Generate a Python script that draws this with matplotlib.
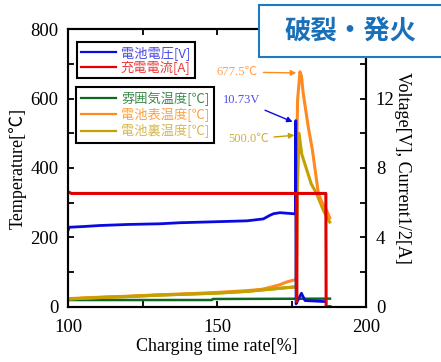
import matplotlib
matplotlib.use("Agg")
import matplotlib.pyplot as plt
from matplotlib.patches import Rectangle
from matplotlib.ticker import MultipleLocator, FixedLocator

plt.rcParams["font.family"] = ["Liberation Serif", "Noto Sans CJK JP", "DejaVu Sans"]

# charging time rate [%] and values
volt_x = [100, 100.3, 105, 110.6, 120, 130.8, 137.5, 150, 160, 165.5, 167.5, 168.9, 171.1, 175.6, 176.3,
          176.4, 176.5, 177.2, 178.3, 179.5, 186.2]
volt_y = [4.45, 4.58, 4.62, 4.68, 4.74, 4.78, 4.84, 4.9, 4.95, 5.06, 5.25, 5.36, 5.42, 5.36, 5.36,
          10.73, 0.16, 0.4, 0.77, 0.35, 0.29]

curr_x = [100, 101, 176.6, 176.7, 176.8, 186.5, 186.6, 187.9]
curr_y = [6.62, 6.53, 6.53, 0.3, 6.53, 6.53, 0.0, 0.0]

amb_x = [100, 148.2, 148.5, 187.9]
amb_y = [19, 19, 22, 23]

surf_x = [100, 110, 120, 130, 140, 150, 160, 165, 168, 171, 173, 175, 176.5,
          176.7, 177.0, 177.8, 178.3, 178.9, 180.6, 182.0, 184.0, 185.5, 186.8, 187.8]
surf_y = [23, 27, 30, 34, 37, 41, 46, 50, 56, 63, 70, 75, 78,
          431, 595, 677.5, 665, 615, 518, 451, 326, 295, 277, 256]

back_x = [100, 110, 120, 130, 140, 150, 160, 165, 170, 175, 176.6,
          176.8, 177.5, 178.4, 181.6, 183.4, 185.7, 187.8]
back_y = [22, 26, 29, 33, 36, 39, 44, 48, 52, 56, 57,
          300, 500, 440, 354, 326, 277, 244]

right_ticks = [0, 4, 8, 12]

C_BLUE = "#0a0ae0"
C_RED = "#e00000"
C_GREEN = "#0b6a20"
C_ORANGE = "#ff8a1e"
C_OLIVE = "#c4a000"

fig = plt.figure(figsize=(4.41, 3.62), dpi=100)
ax = fig.add_axes([0.155, 0.153, 0.675, 0.766])
ax2 = ax.twinx()

l_amb, = ax.plot(amb_x, amb_y, color=C_GREEN, lw=1.8)
l_back, = ax.plot(back_x, back_y, color=C_OLIVE, lw=2.2)
l_surf, = ax.plot(surf_x, surf_y, color=C_ORANGE, lw=2.2)
ax.plot(back_x[:12], back_y[:12], color=C_OLIVE, lw=2.2)

l_volt, = ax2.plot(volt_x, volt_y, color=C_BLUE, lw=2.0)
l_curr, = ax2.plot(curr_x, curr_y, color=C_RED, lw=2.2)

ax.set_xlim(100, 200)
ax.set_ylim(0, 800)
ax2.set_ylim(0, 16)

ax.xaxis.set_major_locator(MultipleLocator(50))
ax.xaxis.set_minor_locator(MultipleLocator(25))
ax.yaxis.set_major_locator(MultipleLocator(200))
ax.yaxis.set_minor_locator(MultipleLocator(100))
ax2.yaxis.set_major_locator(FixedLocator(right_ticks))
ax2.yaxis.set_minor_locator(MultipleLocator(2))

ax.tick_params(which="both", direction="in", length=4.5, width=1.3, top=True, labelsize=13.5, pad=7)
ax2.tick_params(which="both", direction="in", length=4.5, width=1.3, labelsize=13.5, pad=7)
ax.tick_params(axis="x", pad=9)
for a in (ax, ax2):
    for s in a.spines.values():
        s.set_linewidth(1.5)

ax.set_xlabel("Charging time rate[%]", fontsize=13, labelpad=1)
ax.set_ylabel("Temperature[℃]", fontsize=13, labelpad=3)
ax2.set_ylabel("Voltage[V], Current1/2[A]", fontsize=13, rotation=-90, labelpad=12)

cjk = ["Noto Sans CJK JP", "DejaVu Sans"]
leg1 = ax2.legend([l_volt, l_curr], ["電池電圧[V]", "充電電流[A]"],
                  loc="upper left", bbox_to_anchor=(0.028, 0.955), borderaxespad=0,
                  fancybox=False, prop={"family": cjk, "size": 9.5}, handlelength=2.7,
                  handletextpad=0.35, borderpad=0.3, labelspacing=0.05, framealpha=1,
                  edgecolor="black")
leg1.get_frame().set_linewidth(1.5)
for t, c in zip(leg1.get_texts(), ["#4a4ae0", "#e83a3a"]):
    t.set_color(c)

leg2 = ax.legend([l_amb, l_surf, l_back], ["雰囲気温度[℃]", "電池表温度[℃]", "電池裏温度[℃]"],
                 loc="upper left", bbox_to_anchor=(0.026, 0.793), borderaxespad=0,
                 fancybox=False, prop={"family": cjk, "size": 9.5}, handlelength=2.7,
                 handletextpad=0.35, borderpad=0.35, labelspacing=0.15, framealpha=1,
                 edgecolor="black")
leg2.get_frame().set_linewidth(1.5)
for t, c in zip(leg2.get_texts(), ["#3e8a50", "#ffa040", "#d4b850"]):
    t.set_color(c)

for leg in (leg1, leg2):
    for h in leg.get_lines():
        h.set_linewidth(1.6)

ann_family = ["Liberation Serif", "Noto Sans CJK JP"]
ax.annotate("677.5℃", xy=(177.5, 674), xytext=(156.8, 677), color="#ffa050",
            family=ann_family, fontsize=9, ha="center", va="center",
            arrowprops=dict(arrowstyle="-|>", color=C_ORANGE, lw=1.0, mutation_scale=8))
ax2.annotate("10.73V", xy=(176.2, 10.6), xytext=(158.2, 11.9), color="#5050e0",
             family=ann_family, fontsize=9, ha="center", va="center",
             arrowprops=dict(arrowstyle="-|>", color=C_BLUE, lw=1.0, mutation_scale=8))
ax.annotate("500.0℃", xy=(176.9, 495), xytext=(160.4, 483), color="#d0b040",
            family=ann_family, fontsize=9, ha="center", va="center",
            arrowprops=dict(arrowstyle="-|>", color=C_OLIVE, lw=1.0, mutation_scale=8))

# title box
fig.add_artist(Rectangle((259 / 441, 1 - 56.7 / 362), 190 / 441, 52 / 362,
                         transform=fig.transFigure, facecolor="white",
                         edgecolor="#1f7ac4", lw=1.5, zorder=5))
fig.text(351 / 441, 1 - 32 / 362, "破裂・発火", family=cjk, fontsize=19,
         fontweight="bold", color="#1a70b8", ha="center", va="center", zorder=6)

fig.savefig("out.png", dpi=100)
